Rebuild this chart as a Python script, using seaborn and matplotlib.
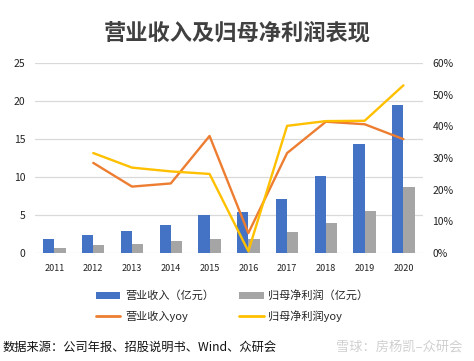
import numpy as np
import pandas as pd
import matplotlib
matplotlib.use("Agg")
import matplotlib.pyplot as plt
import seaborn as sns
from matplotlib.patches import Patch
from matplotlib.lines import Line2D

years = ["2011", "2012", "2013", "2014", "2015", "2016", "2017", "2018", "2019", "2020"]
revenue = [1.9, 2.4, 2.9, 3.7, 5.0, 5.4, 7.1, 10.1, 14.3, 19.5]
net_profit = [0.7, 1.0, 1.2, 1.6, 1.9, 1.9, 2.8, 3.9, 5.6, 8.7]
rev_yoy_years = ["2012", "2013", "2014", "2015", "2016", "2017", "2018", "2019", "2020"]
rev_yoy = [28.5, 21.0, 22.0, 37.0, 6.3, 31.6, 41.5, 40.7, 36.0]
np_yoy = [31.6, 27.0, 25.8, 25.0, 0.6, 40.2, 41.7, 41.8, 53.0]
left_ticks = [0, 5, 10, 15, 20, 25]
right_ticks = [0, 10, 20, 30, 40, 50, 60]
s_rev = "营业收入（亿元）"
s_np = "归母净利润（亿元）"
s_rev_yoy = "营业收入yoy"
s_np_yoy = "归母净利润yoy"

sns.set_theme(style="white")
plt.rcParams["font.family"] = ["Noto Sans CJK SC", "DejaVu Sans"]

c_blue, c_gray, c_orange, c_yellow = "#4472C4", "#A5A5A5", "#ED7D31", "#FFC000"

bars = pd.DataFrame({
    "year": years * 2,
    "value": revenue + net_profit,
    "series": [s_rev] * len(years) + [s_np] * len(years),
})

fig = plt.figure(figsize=(4.74, 3.61), dpi=100)
ax = fig.add_axes([0.074, 0.299, 0.818, 0.526])

sns.barplot(data=bars, x="year", y="value", hue="series", order=years,
            hue_order=[s_rev, s_np], palette=[c_blue, c_gray],
            width=0.58, gap=0.0, ax=ax, legend=False, saturation=1,
            linewidth=0, edgecolor="none")
ax.set_xlim(-0.5, 9.5)
ax.set_ylim(0, 25)
ax.set_yticks(left_ticks)
ax.grid(axis="y", color="#D9D9D9", linewidth=0.9)
ax.set_axisbelow(True)
ax.set_xlabel("")
ax.set_ylabel("")
for s in ax.spines.values():
    s.set_visible(False)
ax.tick_params(axis="both", length=0, labelsize=7.5, colors="#222222")
ax.tick_params(axis="y", pad=7)
ax.tick_params(axis="x", pad=8)
for lab in ax.get_xticklabels():
    lab.set_fontsize(6.5)

ax2 = ax.twinx()
pos = {y: i for i, y in enumerate(years)}
lines = pd.DataFrame({
    "x": [pos[y] for y in rev_yoy_years] * 2,
    "value": rev_yoy + np_yoy,
    "series": [s_rev_yoy] * len(rev_yoy_years) + [s_np_yoy] * len(rev_yoy_years),
})
sns.lineplot(data=lines, x="x", y="value", hue="series",
             hue_order=[s_rev_yoy, s_np_yoy], palette=[c_orange, c_yellow],
             linewidth=1.7, ax=ax2, legend=False)
ax2.set_ylim(0, 60)
ax2.set_yticks(right_ticks)
ax2.set_yticklabels([f"{t}%" for t in right_ticks])
ax2.set_xlim(-0.5, 9.5)
ax2.set_xlabel("")
ax2.set_ylabel("")
for s in ax2.spines.values():
    s.set_visible(False)
ax2.tick_params(axis="y", length=0, labelsize=7.5, colors="#222222", pad=7)
ax2.grid(False)

fig.text(0.5, 0.908, "营业收入及归母净利润表现", ha="center", va="center",
         fontsize=16, fontweight="bold", color="#404040")

# column-major fill: col1 = revenue bar, revenue yoy; col2 = profit bar, profit yoy
handles = [Patch(facecolor=c_blue, edgecolor="none"),
           Line2D([], [], color=c_orange, linewidth=2),
           Patch(facecolor=c_gray, edgecolor="none"),
           Line2D([], [], color=c_yellow, linewidth=2)]
labels = [s_rev, s_rev_yoy, s_np, s_np_yoy]
fig.legend(handles, labels, ncol=2, loc="center", bbox_to_anchor=(0.49, 0.152),
           frameon=False, fontsize=8, handlelength=2.2, handleheight=0.6,
           columnspacing=2.3, labelspacing=0.85, handletextpad=0.4)

fig.text(0.005, 0.038, "数据来源：公司年报、招股说明书、Wind、众研会",
         ha="left", va="center", fontsize=8.8, color="#111111")
fig.text(0.975, 0.038, "雪球：房杨凯–众研会", ha="right", va="center",
         fontsize=9.5, color="#D0D0D0")

fig.savefig("out.png", dpi=100, facecolor="white")
